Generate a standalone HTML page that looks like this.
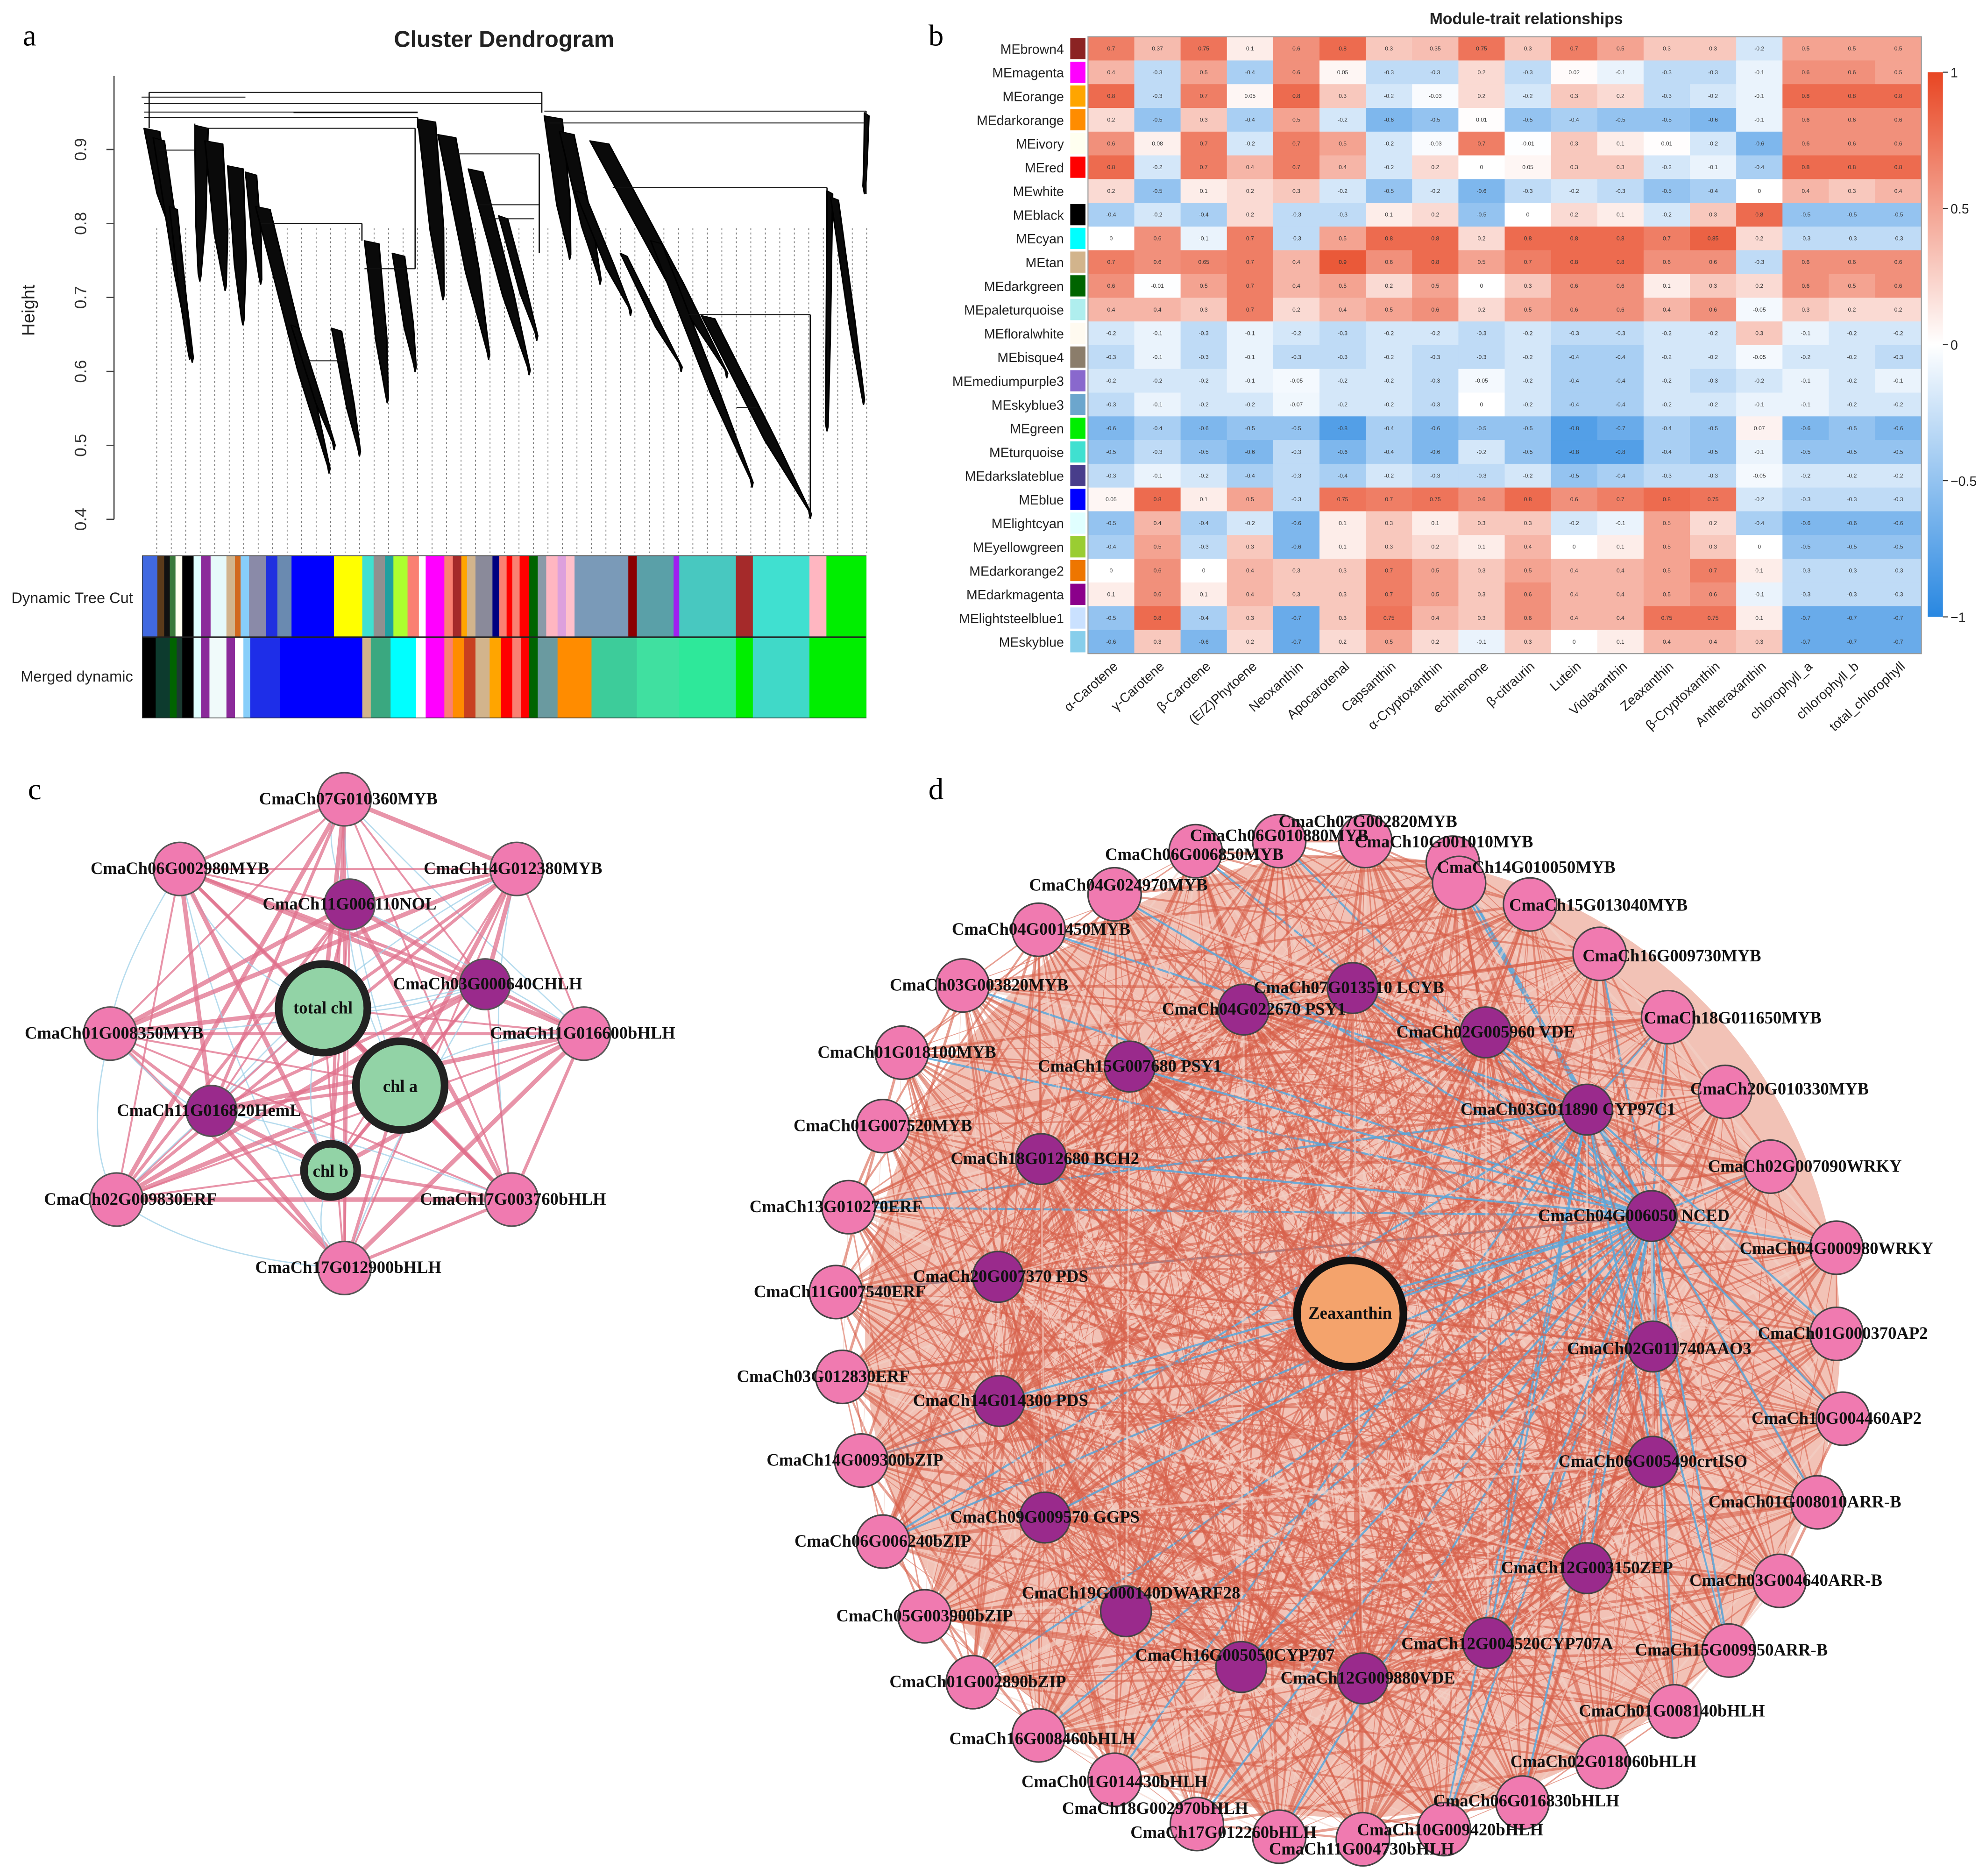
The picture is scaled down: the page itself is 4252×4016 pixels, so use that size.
<!DOCTYPE html>
<html><head><meta charset="utf-8">
<style>
html,body{margin:0;padding:0;background:#fff;}
svg{display:block;}
text{font-family:"Liberation Sans",sans-serif;}
.serif{font-family:"Liberation Serif",serif;}
</style></head>
<body>
<svg id="fig" xmlns="http://www.w3.org/2000/svg" width="4252" height="4016" viewBox="0 0 1568 1481">
<rect x="0" y="0" width="1568" height="1481" fill="#fff"/>
<text class="serif" x="18" y="36" font-size="24">a</text>
<text class="serif" x="733" y="36" font-size="24">b</text>
<text class="serif" x="22" y="631" font-size="24">c</text>
<text class="serif" x="733" y="631" font-size="24">d</text>

<g id="panelA">
<text x="398" y="37" font-size="18" font-weight="bold" text-anchor="middle" fill="#222">Cluster Dendrogram</text>
<text x="0" y="0" font-size="14" text-anchor="middle" fill="#222" transform="translate(27,245) rotate(-90)">Height</text>
<line x1="90" y1="60" x2="90" y2="410" stroke="#444" stroke-width="1"/>
<g id="yticks"></g>
<g id="dendro" transform="matrix(0.4,0,0,0.2464,73.75,52)"></g>
<rect x="112.6" y="439" width="571" height="127.5" fill="none" stroke="#333" stroke-width="1"/>
<g id="cutbars"></g>
<text x="105" y="476" font-size="12" text-anchor="end" fill="#222">Dynamic Tree Cut</text>
<text x="105" y="538" font-size="12" text-anchor="end" fill="#222">Merged dynamic</text>
</g>

<g id="panelB">
<text x="1205" y="19" font-size="12.5" font-weight="bold" text-anchor="middle" fill="#222">Module-trait relationships</text>
<g id="heat"></g>
<defs><linearGradient id="cb" x1="0" y1="0" x2="0" y2="1">
<stop offset="0" stop-color="rgb(232,70,35)"/><stop offset="0.5" stop-color="#fff"/><stop offset="1" stop-color="rgb(40,135,225)"/></linearGradient></defs>
<rect x="1522" y="57" width="12" height="430" fill="url(#cb)"/>
<g id="cbticks"></g>
</g>

<g id="panelC"><g id="cEdges"></g><g id="cNodes"></g></g>
<g id="panelD">
<ellipse cx="1068" cy="1055" rx="385" ry="380" fill="#e99a86" opacity="0.6"/>
<g id="dEdges"></g><g id="dNodes"></g></g>
</svg>
<script>
var NS="http://www.w3.org/2000/svg";
function mk(tag,attrs,parent,txt){var e=document.createElementNS(NS,tag);for(var k in attrs)e.setAttribute(k,attrs[k]);if(txt!==undefined)e.textContent=txt;parent.appendChild(e);return e;}

var yTickValues=[0.4,0.5,0.6,0.7,0.8,0.9];
var yTickLabels=["0.4","0.5","0.6","0.7","0.8","0.9"];
function yH(h){return 410-(h-0.4)*584;}
var yt=document.getElementById('yticks');
yTickValues.forEach(function(v,i){
  var t=mk('line',{x1:84,x2:90,y1:yH(v),y2:yH(v),stroke:'#444','stroke-width':1},yt);
  
  var l=mk('text',{x:0,y:0,'font-size':13,'text-anchor':'middle',fill:'#333',transform:'translate(68,'+yH(v)+') rotate(-90)'},yt,yTickLabels[i]);
  
});
var dendroStrands=[
 [100,200,150,530,14],[118,230,195,950,10],[150,450,190,940,7],
 [200,190,210,690,12],[220,240,260,720,16],[265,320,295,830,14],[300,340,330,700,10],
 [320,450,465,1305,13],[390,830,475,1230,7],[470,840,525,1250,9],
 [535,560,580,1080,13],[590,600,635,980,11],
 [640,170,690,750,16],[680,220,780,940,16],[740,330,860,990,13],[800,480,875,880,8],
 [890,160,940,620,16],[920,210,1000,700,13],[980,240,1250,1000,17],[1100,560,1300,1350,10],
 [1200,800,1415,1450,12],[950,400,1060,800,9],[1040,600,1160,980,6],
 [1448,400,1448,1170,5],[1455,420,1520,1085,7],[1522,150,1522,410,4]];
var dendroHLines=[[110,885,85],[100,885,120],[100,640,148],[395,640,150],[100,640,165],[210,635,200],[890,1525,145],[900,1525,183],[720,880,282],[1025,1448,390],[330,530,505],[1175,1415,797],[130,200,270],[95,300,100],[760,880,445],[780,870,490],[535,635,650],[420,500,945],[1270,1310,1095]];
var dendroVLines=[[885,85,150],[1525,145,410],[635,200,650],[530,505,560],[880,282,600],[1415,797,1440],[1448,390,400],[110,85,200],[200,185,270],[640,165,200]];
var dg=document.getElementById('dendro');
for(var i=0;i<50;i++){var zx=125+i*28.6;
  var dl=mk('line',{x1:zx,x2:zx,y1:520,y2:1560,stroke:'#777','stroke-width':1.6,'stroke-dasharray':'6,8'},dg);
  }
dendroStrands.forEach(function(s){
  var x0=s[0],y0=s[1],x1=s[2],y1=s[3],W=s[4]*2.2;
  var mx=x0+(x1-x0)*0.6, my=y0+(y1-y0)*0.6;
  var pts=[[x0,y0],[x0+W,y0+10],[mx+W*0.6,my],[x1+2,y1-15],[x1,y1],[x1-3,y1-25],[mx-W*0.15,my+10]];
  var p=mk('polygon',{points:pts.map(function(q){return q.join(',');}).join(' '),fill:'#0a0a0a',stroke:'#000','stroke-width':3,'stroke-linejoin':'round'},dg);
  
});
dendroHLines.forEach(function(h){var l=mk('line',{x1:h[0],x2:h[1],y1:h[2],y2:h[2],stroke:'#111','stroke-width':3},dg);
  });
dendroVLines.forEach(function(v){var l=mk('line',{x1:v[0],x2:v[0],y1:v[1],y2:v[2],stroke:'#111','stroke-width':2.5},dg);
  });

var cutEdges=[252,278,290,300,310,322,342,355,372,400,415,425,440,470,490,515,590,640,660,680,695,720,740,752,785,800,815,825,840,870,882,895,905,918,935,950,965,985,1000,1015,1110,1125,1190,1200,1300,1330,1430,1460,1530];
var cutColors=["#4169e1","#5a3a1a","#111","#3a7a3a","#fffff0","#000","#e0ffff","#8b2a9a","#e6fafa","#d2b48c","#d2691e","#87cefa","#8a8aa8","#2030e0","#6a8ab0","#0000ff","#ffff00","#40e0d0","#909090","#20a0a0","#adff2f","#fa8072","#ffffff","#ff00ff","#fa8072","#a52a2a","#ffa500","#d2b48c","#8a8a9a","#000080","#fa8072","#ff0000","#fa8072","#ff0000","#006400","#8a9aa8","#ffb6c1","#dda0dd","#ffc0cb","#7a9ab8","#8b0000","#5aa0a8","#a020f0","#48c8c0","#a52a2a","#40e0d0","#ffb6c1","#00ee00"];
var mergedEdges=[252,275,300,312,322,342,355,370,400,415,430,442,495,640,655,690,735,752,785,800,820,840,865,885,905,920,935,950,985,1045,1125,1200,1300,1330,1430,1530];
var mergedColors=["#000","#0d3b2e","#006400","#1a3a30","#000","#e0ffff","#8b2a9a","#f0fafa","#8b2a9a","#ffffff","#87cefa","#1e2ee8","#0000ff","#d2b48c","#3aa880","#00ffff","#ffffff","#ff00ff","#fa8072","#ff8c00","#c84020","#d2b48c","#ffa500","#ff0000","#fa8072","#ff0000","#006400","#6a9aa0","#ff8c00","#3dcc9a","#40e0a0","#2ee89a","#00ee00","#40d9c8","#00ee00"];
var cb=document.getElementById('cutbars');
function zX(z){return z*0.4469;}
cutColors.forEach(function(c,i){var r=mk('rect',{x:zX(cutEdges[i]),y:439,width:zX(cutEdges[i+1])-zX(cutEdges[i])+0.3,height:64,fill:c},cb);
  });
mergedColors.forEach(function(c,i){var r=mk('rect',{x:zX(mergedEdges[i]),y:503,width:zX(mergedEdges[i+1])-zX(mergedEdges[i])+0.3,height:63.5,fill:c},cb);
  });
mk('line',{x1:112.6,x2:683.6,y1:503,y2:503,stroke:'#222','stroke-width':1.2},cb);

var rowNames=["MEbrown4","MEmagenta","MEorange","MEdarkorange","MEivory","MEred","MEwhite","MEblack","MEcyan","MEtan","MEdarkgreen","MEpaleturquoise","MEfloralwhite","MEbisque4","MEmediumpurple3","MEskyblue3","MEgreen","MEturquoise","MEdarkslateblue","MEblue","MElightcyan","MEyellowgreen","MEdarkorange2","MEdarkmagenta","MElightsteelblue1","MEskyblue"];
var rowColors=["#8b2323","#ff00ff","#ffa500","#ff8c00","#fffff0","#ff0000","#ffffff","#000000","#00ffff","#d2b48c","#006400","#afeeee","#fffaf0","#8b7d6b","#8968cd","#6ca6cd","#00ee00","#40e0d0","#483d8b","#0000ff","#e0ffff","#9acd32","#ee7600","#8b008b","#cae1ff","#87ceeb"];
var colNames=["α-Carotene","γ-Carotene","β-Carotene","(E/Z)Phytoene","Neoxanthin","Apocarotenal","Capsanthin","α-Cryptoxanthin","echinenone","β-citraurin","Lutein","Violaxanthin","Zeaxanthin","β-Cryptoxanthin","Antheraxanthin","chlorophyll_a","chlorophyll_b","total_chlorophyll"];
var corrValues=[
[0.7,0.37,0.75,0.1,0.6,0.8,0.3,0.35,0.75,0.3,0.7,0.5,0.3,0.3,-0.2,0.5,0.5,0.5],
[0.4,-0.3,0.5,-0.4,0.6,0.05,-0.3,-0.3,0.2,-0.3,0.02,-0.1,-0.3,-0.3,-0.1,0.6,0.6,0.5],
[0.8,-0.3,0.7,0.05,0.8,0.3,-0.2,-0.03,0.2,-0.2,0.3,0.2,-0.3,-0.2,-0.1,0.8,0.8,0.8],
[0.2,-0.5,0.3,-0.4,0.5,-0.2,-0.6,-0.5,0.01,-0.5,-0.4,-0.5,-0.5,-0.6,-0.1,0.6,0.6,0.6],
[0.6,0.08,0.7,-0.2,0.7,0.5,-0.2,-0.03,0.7,-0.01,0.3,0.1,0.01,-0.2,-0.6,0.6,0.6,0.6],
[0.8,-0.2,0.7,0.4,0.7,0.4,-0.2,0.2,0.0,0.05,0.3,0.3,-0.2,-0.1,-0.4,0.8,0.8,0.8],
[0.2,-0.5,0.1,0.2,0.3,-0.2,-0.5,-0.2,-0.6,-0.3,-0.2,-0.3,-0.5,-0.4,0.0,0.4,0.3,0.4],
[-0.4,-0.2,-0.4,0.2,-0.3,-0.3,0.1,0.2,-0.5,0.0,0.2,0.1,-0.2,0.3,0.8,-0.5,-0.5,-0.5],
[0.0,0.6,-0.1,0.7,-0.3,0.5,0.8,0.8,0.2,0.8,0.8,0.8,0.7,0.85,0.2,-0.3,-0.3,-0.3],
[0.7,0.6,0.65,0.7,0.4,0.9,0.6,0.8,0.5,0.7,0.8,0.8,0.6,0.6,-0.3,0.6,0.6,0.6],
[0.6,-0.01,0.5,0.7,0.4,0.5,0.2,0.5,0.0,0.3,0.6,0.6,0.1,0.3,0.2,0.6,0.5,0.6],
[0.4,0.4,0.3,0.7,0.2,0.4,0.5,0.6,0.2,0.5,0.6,0.6,0.4,0.6,-0.05,0.3,0.2,0.2],
[-0.2,-0.1,-0.3,-0.1,-0.2,-0.3,-0.2,-0.2,-0.3,-0.2,-0.3,-0.3,-0.2,-0.2,0.3,-0.1,-0.2,-0.2],
[-0.3,-0.1,-0.3,-0.1,-0.3,-0.3,-0.2,-0.3,-0.3,-0.2,-0.4,-0.4,-0.2,-0.2,-0.05,-0.2,-0.2,-0.3],
[-0.2,-0.2,-0.2,-0.1,-0.05,-0.2,-0.2,-0.3,-0.05,-0.2,-0.4,-0.4,-0.2,-0.3,-0.2,-0.1,-0.2,-0.1],
[-0.3,-0.1,-0.2,-0.2,-0.07,-0.2,-0.2,-0.3,0.0,-0.2,-0.4,-0.4,-0.2,-0.2,-0.1,-0.1,-0.2,-0.2],
[-0.6,-0.4,-0.6,-0.5,-0.5,-0.8,-0.4,-0.6,-0.5,-0.5,-0.8,-0.7,-0.4,-0.5,0.07,-0.6,-0.5,-0.6],
[-0.5,-0.3,-0.5,-0.6,-0.3,-0.6,-0.4,-0.6,-0.2,-0.5,-0.8,-0.8,-0.4,-0.5,-0.1,-0.5,-0.5,-0.5],
[-0.3,-0.1,-0.2,-0.4,-0.3,-0.4,-0.2,-0.3,-0.3,-0.2,-0.5,-0.4,-0.3,-0.3,-0.05,-0.2,-0.2,-0.2],
[0.05,0.8,0.1,0.5,-0.3,0.75,0.7,0.75,0.6,0.8,0.6,0.7,0.8,0.75,-0.2,-0.3,-0.3,-0.3],
[-0.5,0.4,-0.4,-0.2,-0.6,0.1,0.3,0.1,0.3,0.3,-0.2,-0.1,0.5,0.2,-0.4,-0.6,-0.6,-0.6],
[-0.4,0.5,-0.3,0.3,-0.6,0.1,0.3,0.2,0.1,0.4,0.0,0.1,0.5,0.3,0.0,-0.5,-0.5,-0.5],
[0.0,0.6,0.0,0.4,0.3,0.3,0.7,0.5,0.3,0.5,0.4,0.4,0.5,0.7,0.1,-0.3,-0.3,-0.3],
[0.1,0.6,0.1,0.4,0.3,0.3,0.7,0.5,0.3,0.6,0.4,0.4,0.5,0.6,-0.1,-0.3,-0.3,-0.3],
[-0.5,0.8,-0.4,0.3,-0.7,0.3,0.75,0.4,0.3,0.6,0.4,0.4,0.75,0.75,0.1,-0.7,-0.7,-0.7],
[-0.6,0.3,-0.6,0.2,-0.7,0.2,0.5,0.2,-0.1,0.3,0.0,0.1,0.4,0.4,0.3,-0.7,-0.7,-0.7]];
var scaleTicks=[1,0.5,0,-0.5,-1];
var scaleTickLabels=["1","0.5","0","\u22120.5","\u22121"];
var HX0=859,HX1=1517,HY0=29,HY1=516;
var cw=(HX1-HX0)/colNames.length, rh=(HY1-HY0)/rowNames.length;
function colorOf(v){v=Math.max(-1,Math.min(1,v));var r,g,b;
 if(v>=0){r=255+(232-255)*v;g=255+(70-255)*v;b=255+(35-255)*v;}else{var a=-v;r=255+(40-255)*a;g=255+(135-255)*a;b=255+(225-255)*a;}
 return 'rgb('+Math.round(r)+','+Math.round(g)+','+Math.round(b)+')';}
var hg=document.getElementById('heat');
corrValues.forEach(function(row,i){
  row.forEach(function(v,j){
    var c=mk('rect',{x:HX0+j*cw,y:HY0+i*rh,width:cw+0.3,height:rh+0.3,fill:colorOf(v)},hg);
    
    var t=mk('text',{x:HX0+(j+0.5)*cw,y:HY0+(i+0.5)*rh+1.5,'font-size':4.5,'text-anchor':'middle',fill:'#333'},hg,String(v));
    
  });
  var sw=mk('rect',{x:845,y:HY0+i*rh+1,width:12,height:rh-2,fill:rowColors[i]},hg);
  
  var lb=mk('text',{x:840,y:HY0+(i+0.5)*rh+4,'font-size':10.5,'text-anchor':'end',fill:'#222'},hg,rowNames[i]);
  
});
mk('rect',{x:HX0,y:HY0,width:HX1-HX0,height:HY1-HY0,fill:'none',stroke:'#999','stroke-width':0.8},hg);
colNames.forEach(function(n,j){var x=HX0+(j+0.5)*cw+6;
  var t=mk('text',{x:0,y:0,'font-size':10.5,'text-anchor':'end',fill:'#222',transform:'translate('+x+',527) rotate(-42)'},hg,n);
  });
var cbt=document.getElementById('cbticks');
scaleTicks.forEach(function(v,i){var y=57+(1-v)/2*430;
  mk('line',{x1:1534,x2:1538,y1:y,y2:y,stroke:'#333','stroke-width':0.8},cbt);
  var t=mk('text',{x:1540,y:y+4,'font-size':10.5,fill:'#222'},cbt,scaleTickLabels[i]);
  });

var cNodes=[
 [272,631,"CmaCh07G010360MYB","p",275,635],[142,686,"CmaCh06G002980MYB","p",142,690],[408,686,"CmaCh14G012380MYB","p",405,690],
 [87,816,"CmaCh01G008350MYB","p",90,820],[461,816,"CmaCh11G016600bHLH","p",460,820],[92,947,"CmaCh02G009830ERF","p",103,951],
 [404,947,"CmaCh17G003760bHLH","p",405,951],[272,1001,"CmaCh17G012900bHLH","p",275,1005],
 [276,714,"CmaCh11G006110NOL","u",276,718],[383,777,"CmaCh03G000640CHLH","u",385,781],[167,877,"CmaCh11G016820HemL","u",165,881],
 [255,796,"total chl","g",255,800],[316,857,"chl a","g",316,862],[261,924,"chl b","g",261,929]];
var ce=document.getElementById('cEdges');
for(var i=0;i<cNodes.length;i++)for(var j=i+1;j<cNodes.length;j++){
  var a=cNodes[i],b=cNodes[j];var blue=((i*7+j*3)%4===0);
  var mx=(a[0]+b[0])/2+((i+j)%2?25:-25),my=(a[1]+b[1])/2+((i*j)%2?20:-20);
  var e=mk('path',{d:blue?('M'+a[0]+','+a[1]+' Q'+mx+','+my+' '+b[0]+','+b[1]):('M'+a[0]+','+a[1]+' L'+b[0]+','+b[1]),fill:'none',stroke:blue?'#9fd0e8':'#e0708c','stroke-width':blue?1:1.5+((i+j)%3),opacity:0.75},ce);
  }
var cn=document.getElementById('cNodes');
cNodes.forEach(function(n){var r=n[3]==='p'?21:(n[3]==='u'?20:(n[2]==='chl b'?21:35));
  var fill=n[3]==='p'?'#f07ab0':(n[3]==='u'?'#9a2a8c':'#92d3a6');
  var c=mk('circle',{cx:n[0],cy:n[1],r:r,fill:fill,stroke:n[3]==='g'?'#222':'#555','stroke-width':n[3]==='g'?6:1.2},cn);
  });
cNodes.forEach(function(n){var t=mk('text',{x:n[4],y:n[5],'font-size':13.5,'font-weight':'bold','text-anchor':'middle',fill:'#111','class':'serif'},cn,n[2]);
  });

var dNodes=[
 [944,672,"CmaCh06G006850MYB","p",943,679],[1010,664,"CmaCh06G010880MYB","p",1010,664],[1078,664,"CmaCh07G002820MYB","p",1080,653],
 [1147,681,"CmaCh10G001010MYB","p",1140,669],[1152,697,"CmaCh14G010050MYB","p",1205,689],[1208,714,"CmaCh15G013040MYB","p",1262,719],
 [1263,753,"CmaCh16G009730MYB","p",1320,759],[1317,803,"CmaCh18G011650MYB","p",1368,808],[1362,862,"CmaCh20G010330MYB","p",1405,864],
 [1398,921,"CmaCh02G007090WRKY","p",1425,925],[1450,985,"CmaCh04G000980WRKY","p",1450,990],[1450,1053,"CmaCh01G000370AP2","p",1455,1057],
 [1455,1120,"CmaCh10G004460AP2","p",1450,1124],[1435,1186,"CmaCh01G008010ARR-B","p",1425,1190],[1405,1248,"CmaCh03G004640ARR-B","p",1410,1252],
 [1365,1303,"CmaCh15G009950ARR-B","p",1367,1307],[1322,1351,"CmaCh01G008140bHLH","p",1320,1355],[1265,1391,"CmaCh02G018060bHLH","p",1266,1395],
 [1202,1423,"CmaCh06G016830bHLH","p",1205,1426],[1140,1444,"CmaCh10G009420bHLH","p",1145,1449],[1076,1452,"CmaCh11G004730bHLH","p",1075,1464],
 [1010,1450,"CmaCh17G012260bHLH","p",966,1451],[945,1440,"CmaCh18G002970bHLH","p",912,1432],[880,1405,"CmaCh01G014430bHLH","p",880,1411],
 [820,1370,"CmaCh16G008460bHLH","p",823,1377],[768,1328,"CmaCh01G002890bZIP","p",772,1332],[730,1276,"CmaCh05G003900bZIP","p",730,1280],
 [697,1217,"CmaCh06G006240bZIP","p",697,1221],[680,1153,"CmaCh14G009300bZIP","p",675,1157],[665,1087,"CmaCh03G012830ERF","p",650,1091],
 [660,1020,"CmaCh11G007540ERF","p",663,1024],[670,953,"CmaCh13G010270ERF","p",660,957],[697,889,"CmaCh01G007520MYB","p",697,893],
 [712,831,"CmaCh01G018100MYB","p",716,835],[760,778,"CmaCh03G003820MYB","p",773,782],[820,734,"CmaCh04G001450MYB","p",822,738],
 [880,706,"CmaCh04G024970MYB","p",883,703],
 [1068,780,"CmaCh07G013510 LCYB","u",1065,784],[982,797,"CmaCh04G022670 PSY1","u",990,801],[1173,815,"CmaCh02G005960 VDE","u",1173,819],
 [892,842,"CmaCh15G007680 PSY1","u",892,846],[1253,876,"CmaCh03G011890 CYP97C1","u",1238,880],[822,915,"CmaCh18G012680 BCH2","u",825,919],
 [1304,960,"CmaCh04G006050 NCED","u",1290,964],[788,1008,"CmaCh20G007370 PDS","u",790,1012],[1305,1063,"CmaCh02G011740AAO3","u",1310,1069],
 [789,1106,"CmaCh14G014300 PDS","u",790,1110],[1305,1154,"CmaCh06G005490crtISO","u",1305,1158],[825,1198,"CmaCh09G009570 GGPS","u",825,1202],
 [1253,1238,"CmaCh12G003150ZEP","u",1253,1242],[889,1272,"CmaCh19G000140DWARF28","u",893,1262],[1175,1297,"CmaCh12G004520CYP707A","u",1190,1302],
 [980,1316,"CmaCh16G005050CYP707","u",975,1311],[1076,1325,"CmaCh12G009880VDE","u",1080,1329],
 [1066,1037,"Zeaxanthin","z",1066,1041]];
var de=document.getElementById('dEdges');
var NCED=43;
for(var i=0;i<dNodes.length;i++)for(var j=i+1;j<dNodes.length;j++){
  var a=dNodes[i],b=dNodes[j];
  var involve=(a[3]!=='p'||b[3]!=='p')||((i*13+j*7)%3===0);
  if(!involve)continue;
  var blue=(i===NCED||j===NCED)&&((i+j)%3!==0);
  if(!blue && (i===41||j===41) && (i+j)%4===0) blue=true;
  var wd=blue?1.6:0.6+((i*5+j)%4)*0.5;
  var e=mk('line',{x1:a[0],y1:a[1],x2:b[0],y2:b[1],stroke:blue?'#5aa8dc':(((i+j)%5===0)?'#f3d2c8':'#d8614b'),'stroke-width':wd,opacity:blue?0.85:0.6},de);
  }
var dn=document.getElementById('dNodes');
dNodes.forEach(function(n){var r=n[3]==='z'?42:(n[3]==='u'?20:21);
  var fill=n[3]==='p'?'#f07ab0':(n[3]==='u'?'#9a2a8c':'#f4a36c');
  var c=mk('circle',{cx:n[0],cy:n[1],r:r,fill:fill,stroke:n[3]==='z'?'#111':'#444','stroke-width':n[3]==='z'?6:1.2},dn);
  });
dNodes.forEach(function(n){var t=mk('text',{x:n[4],y:n[5],'font-size':13.5,'font-weight':'bold','text-anchor':'middle',fill:'#111','class':'serif'},dn,n[2]);
  });
</script>
</body></html>
